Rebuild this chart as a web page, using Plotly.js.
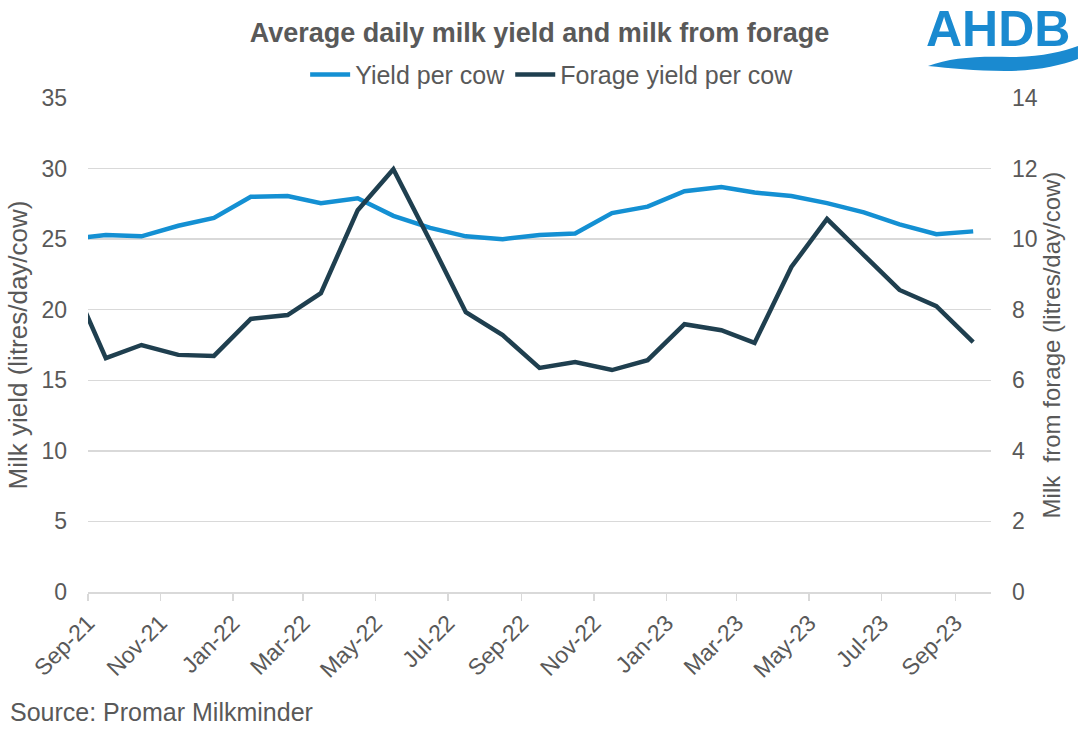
<!DOCTYPE html>
<html>
<head>
<meta charset="utf-8">
<script src="https://cdn.plot.ly/plotly-3.0.1.min.js"></script>
<style>html,body{margin:0;padding:0;background:#fff;}#chart{width:1079px;height:729px;}</style>
</head>
<body>
<div id="chart"></div>
<script>
// Monthly observations (plotted mid-month)
const months = ["2021-08-16","2021-09-16","2021-10-16","2021-11-16","2021-12-16",
  "2022-01-16","2022-02-16","2022-03-16","2022-04-16","2022-05-16","2022-06-16","2022-07-16",
  "2022-08-16","2022-09-16","2022-10-16","2022-11-16","2022-12-16",
  "2023-01-16","2023-02-16","2023-03-16","2023-04-16","2023-05-16","2023-06-16","2023-07-16",
  "2023-08-16","2023-09-16"];
const yieldPerCow = [25.0,25.3,25.2,25.95,26.5,
  28.0,28.05,27.55,27.9,26.65,25.8,25.2,
  25.0,25.3,25.4,26.85,27.3,
  28.4,28.7,28.3,28.05,27.55,26.9,26.05,
  25.35,25.55];
const forageYieldPerCow = [9.0,6.63,7.0,6.72,6.69,
  7.74,7.85,8.47,10.82,11.98,9.95,7.93,
  7.28,6.35,6.52,6.29,6.57,
  7.59,7.42,7.06,9.21,10.57,9.55,8.56,
  8.10,7.08];
const tickVals = ["2021-09-01","2021-11-01","2022-01-01","2022-03-01","2022-05-01","2022-07-01",
  "2022-09-01","2022-11-01","2023-01-01","2023-03-01","2023-05-01","2023-07-01","2023-09-01"];
const tickLabels = ["Sep-21","Nov-21","Jan-22","Mar-22","May-22","Jul-22",
  "Sep-22","Nov-22","Jan-23","Mar-23","May-23","Jul-23","Sep-23"];

const grey = "#595959";
const font = "Liberation Sans, Arial, sans-serif";

const traces = [
  {x: months, y: yieldPerCow, name: "Yield per cow", type: "scatter", mode: "lines",
   line: {color: "#1490d3", width: 4.5}, yaxis: "y"},
  {x: months, y: forageYieldPerCow, name: "Forage yield per cow", type: "scatter", mode: "lines",
   line: {color: "#1f3f4f", width: 4.5}, yaxis: "y2"}
];

const px = v => ((v - 88) / 903).toFixed(4);
const py = v => ((592 - v) / 494).toFixed(4);

const layout = {
  width: 1079, height: 729,
  margin: {l: 88, r: 88, t: 98, b: 137},
  paper_bgcolor: "#fff", plot_bgcolor: "#fff",
  font: {family: font, color: grey, size: 23},
  title: {text: "<b>Average daily milk yield and milk from forage</b>",
    font: {family: font, size: 27, color: grey},
    x: 0.5, xref: "container", xanchor: "center", y: 0.956, yref: "container", yanchor: "middle"},
  showlegend: true,
  legend: {orientation: "h", x: 0.514, xanchor: "center", y: 1.047, yanchor: "middle",
    font: {family: font, size: 25, color: grey}, itemwidth: 40, tracegroupgap: 0},
  xaxis: {type: "date", range: ["2021-09-01","2023-10-01"], tickmode: "array",
    tickvals: tickVals, ticktext: tickLabels, tickangle: -45,
    tickfont: {family: font, size: 23, color: grey},
    showgrid: false, showline: true, linecolor: "#d9d9d9", linewidth: 1.5,
    ticks: "outside", ticklen: 7, tickcolor: "#d9d9d9", tickwidth: 1.5, zeroline: false},
  yaxis: {range: [0, 35], dtick: 5, tick0: 0, showgrid: true, gridcolor: "#d9d9d9", gridwidth: 1.5,
    zeroline: false, showline: false, ticks: "", ticklabelstandoff: 20,
    tickfont: {family: font, size: 23, color: grey},
    title: {text: "Milk yield (litres/day/cow)", font: {family: font, size: 26, color: grey}, standoff: 6}},
  yaxis2: {range: [0, 14], dtick: 2, tick0: 0, overlaying: "y", side: "right", showgrid: false,
    zeroline: false, showline: false, ticks: "", ticklabelstandoff: 20,
    tickfont: {family: font, size: 23, color: grey},
    title: {text: "Milk  from forage (litres/day/cow)", font: {family: font, size: 24, color: grey}, standoff: 6}},
  annotations: [
    {text: "Source: Promar Milkminder", xref: "paper", yref: "paper", x: -0.0886, y: -0.243,
     xanchor: "left", yanchor: "middle", showarrow: false, font: {family: font, size: 25, color: grey}},
    {text: "<b>AHDB</b>", xref: "paper", yref: "paper", x: px(998), y: py(29),
     xanchor: "center", yanchor: "middle", showarrow: false,
     font: {family: font, size: 50, color: "#1a8ad0"}}
  ],
  shapes: [
    {type: "path", xref: "paper", yref: "paper", fillcolor: "#1a8ad0", line: {width: 0},
     path: "M" + px(928) + "," + py(66) +
       " C" + px(950) + "," + py(58) + " " + px(975) + "," + py(56) + " " + px(1010) + "," + py(57) +
       " C" + px(1040) + "," + py(57) + " " + px(1062) + "," + py(52) + " " + px(1078) + "," + py(46) +
       " L" + px(1078) + "," + py(59) +
       " C" + px(1060) + "," + py(66) + " " + px(1035) + "," + py(71) + " " + px(1005) + "," + py(71) +
       " C" + px(975) + "," + py(71) + " " + px(950) + "," + py(68) + " " + px(928) + "," + py(66) + " Z"}
  ]
};

Plotly.newPlot("chart", traces, layout, {displayModeBar: false, staticPlot: true});
</script>
</body>
</html>
